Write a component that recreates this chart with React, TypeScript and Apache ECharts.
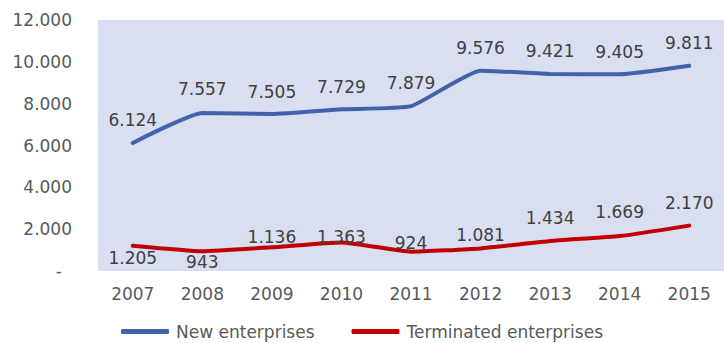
import React, { useEffect, useRef } from "react";
import * as echarts from "echarts";

const years = ["2007", "2008", "2009", "2010", "2011", "2012", "2013", "2014", "2015"];
const newEnterprises = [6124, 7557, 7505, 7729, 7879, 9576, 9421, 9405, 9811];
const terminatedEnterprises = [1205, 943, 1136, 1363, 924, 1081, 1434, 1669, 2170];
// label vertical offsets (px) relative to point
const newLabelOffsets = [-23, -24, -22, -22, -23, -23, -23, -22, -23];
const termLabelOffsets = [12, 11, -10, -5, -9, -13, -23, -24, -23];

const fmt = (v: number) => v.toLocaleString("de-DE");
const FONT = "DejaVu Sans";

export default function App() {
  const ref = useRef<HTMLDivElement>(null);
  useEffect(() => {
    if (!ref.current) return;
    const chart = echarts.init(ref.current, null, { renderer: "svg" });
    const mk = (vals: number[], offs: number[]) =>
      vals.map((v, i) => ({
        value: v,
        label: { offset: [0, offs[i]] },
      }));
    chart.setOption({
      animation: false,
      grid: {
        left: 98,
        right: 0,
        top: 20,
        bottom: 72,
        show: true,
        backgroundColor: "#D9DFF0",
        borderWidth: 0,
      },
      legend: {
        top: 323,
        left: "center",
        padding: 0,
        itemWidth: 48,
        itemHeight: 5,
        itemGap: 37,
        icon: "roundRect",
        textStyle: { fontFamily: FONT, fontSize: 17, color: "#595959", padding: [0, 0, 0, 2] },
        data: ["New enterprises", "Terminated enterprises"],
      },
      xAxis: {
        type: "category",
        data: years,
        boundaryGap: true,
        axisLine: { show: false },
        axisTick: { show: false },
        axisLabel: { fontFamily: FONT, fontSize: 17, color: "#595959", margin: 14 },
      },
      yAxis: {
        type: "value",
        min: 0,
        max: 12000,
        interval: 2000,
        splitLine: { show: false },
        axisLine: { show: false },
        axisTick: { show: false },
        axisLabel: {
          fontFamily: FONT,
          fontSize: 17,
          color: "#595959",
          margin: 26,
          formatter: (v: number) => (v === 0 ? "{d|-}" : fmt(v)),
          rich: { d: { fontFamily: FONT, fontSize: 17, color: "#595959", padding: [0, 10, 0, 0] } },
        },
      },
      series: [
        {
          name: "New enterprises",
          type: "line",
          data: mk(newEnterprises, newLabelOffsets),
          smooth: 0.15,
          symbol: "circle",
          symbolSize: 2,
          showSymbol: true,
          lineStyle: { color: "#4262AA", width: 4, cap: "round" },
          itemStyle: { color: "#4262AA" },
          label: {
            show: true,
            position: "inside",
            fontFamily: FONT,
            fontSize: 17,
            color: "#404040",
            formatter: (p: any) => fmt(p.value),
          },
        },
        {
          name: "Terminated enterprises",
          type: "line",
          data: mk(terminatedEnterprises, termLabelOffsets),
          smooth: 0.15,
          symbol: "circle",
          symbolSize: 2,
          showSymbol: true,
          lineStyle: { color: "#C00000", width: 4, cap: "round" },
          itemStyle: { color: "#C00000" },
          label: {
            show: true,
            position: "inside",
            fontFamily: FONT,
            fontSize: 17,
            color: "#404040",
            formatter: (p: any) => fmt(p.value),
          },
        },
      ],
    });
    return () => chart.dispose();
  }, []);
  return <div ref={ref} style={{ width: 724, height: 343, position: "absolute", left: 0, top: 0 }} />;
}
